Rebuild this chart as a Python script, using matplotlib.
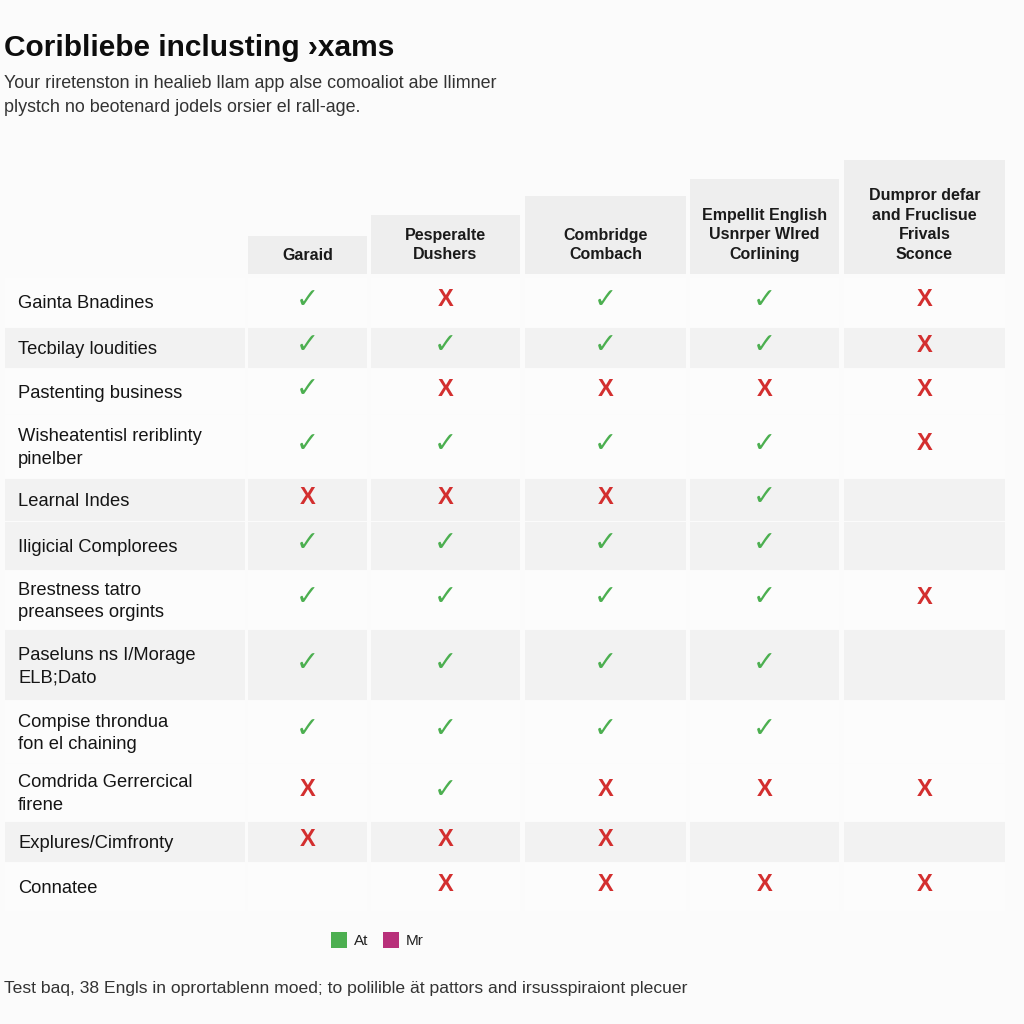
import matplotlib
matplotlib.use("Agg")
import matplotlib.pyplot as plt
from matplotlib.patches import Rectangle

plt.rcParams["font.family"] = ["Liberation Sans", "DejaVu Sans"]

# ── Data ──
title = "Coribliebe inclusting \u203axams"
subtitle = ["Your riretenston in healieb llam app alse comoaliot abe llimner",
            "plystch no beotenard jodels orsier el rall-age."]
columns = ["Garaid", "Pesperalte\nDushers", "Combridge\nCombach",
           "Empellit English\nUsnrper Wlred\nCorlining",
           "Dumpror defar\nand Fruclisue\nFrivals\nSconce"]
rows = ["Gainta Bnadines", "Tecbilay loudities", "Pastenting business",
        "Wisheatentisl reriblinty\npinelber", "Learnal Indes",
        "Iligicial Complorees", "Brestness tatro\npreansees orgints",
        "Paseluns ns I/Morage\nELB;Dato", "Compise throndua\nfon el chaining",
        "Comdrida Gerrercical\nfirene", "Explures/Cimfronty", "Connatee"]
# y = supported, n = not supported, "" = empty cell
marks = [
    ["y", "n", "y", "y", "n"],
    ["y", "y", "y", "y", "n"],
    ["y", "n", "n", "n", "n"],
    ["y", "y", "y", "y", "n"],
    ["n", "n", "n", "y", ""],
    ["y", "y", "y", "y", ""],
    ["y", "y", "y", "y", "n"],
    ["y", "y", "y", "y", ""],
    ["y", "y", "y", "y", ""],
    ["n", "y", "n", "n", "n"],
    ["n", "n", "n", "", ""],
    ["", "n", "n", "n", "n"],
]
legend_labels = ["At", "Mr"]
footer = "Test baq, 38 Engls in oprortablenn moed; to polilible ät pattors and irsusspiraiont plecuer"

# ── Layout (pixels) ──
col_edges = [(248, 367), (371, 520), (525, 686), (690, 839), (844, 1005)]
head_tops = [236, 215, 196, 179, 160]
head_bottom = 274
row_edges = [278, 328, 369, 415, 479, 522, 571, 630, 701, 764, 822, 863, 912]
shaded = [False, True, False, False, True, True, False, True, False, False, True, False]
GREEN = "#4caf50"
RED = "#d32f2f"
MAGENTA = "#b8307a"
GREY = "#f2f2f2"
WHITE = "#fcfcfc"

fig = plt.figure(figsize=(10.24, 10.24), dpi=100, facecolor="#fbfbfb")
ax = fig.add_axes([0, 0, 1, 1])
ax.set_xlim(0, 1024)
ax.set_ylim(1024, 0)
ax.axis("off")

# title block
ax.text(4, 48, title, fontsize=21.5, fontweight="bold", color="#0d0d0d", va="center")
for i, line in enumerate(subtitle):
    ax.text(4, 84 + 24 * i, line, fontsize=12.9, color="#333333", va="center")

# column headers
for (x0, x1), top, name in zip(col_edges, head_tops, columns):
    ax.add_patch(Rectangle((x0, top), x1 - x0, head_bottom - top, color="#eeeeee", lw=0))
    n = name.count("\n") + 1
    ax.text((x0 + x1) / 2, head_bottom - 19 - 20 * (n - 1) / 2, name, ha="center", va="center",
            fontsize=11.5, fontweight="bold", color="#1a1a1a", linespacing=1.4)

# table body
for r, label in enumerate(rows):
    y0, y1 = row_edges[r], row_edges[r + 1]
    yc = (y0 + y1) / 2
    fill = GREY if shaded[r] else WHITE
    ax.add_patch(Rectangle((5, y0), 240, y1 - y0 - 1, color=fill, lw=0))
    ax.text(18, yc + 1, label, fontsize=13.2, color="#151515", va="center", linespacing=1.45)
    for c, (x0, x1) in enumerate(col_edges):
        ax.add_patch(Rectangle((x0, y0), x1 - x0, y1 - y0 - 1, color=fill, lw=0))
        m = marks[r][c]
        if m == "y":
            ax.text((x0 + x1) / 2, yc - 3, "\u2713", ha="center", va="center",
                    fontsize=20, fontweight="bold", color=GREEN, family="DejaVu Sans")
        elif m == "n":
            ax.text((x0 + x1) / 2, yc - 3, "X", ha="center", va="center",
                    fontsize=17, fontweight="bold", color=RED, family="Liberation Sans")

# legend
for i, (lab, col) in enumerate(zip(legend_labels, [GREEN, MAGENTA])):
    x = 331 + 52 * i
    ax.add_patch(Rectangle((x, 932), 16, 16, color=col, lw=0))
    ax.text(x + 23, 941, lab, fontsize=11, color="#222222", va="center")

ax.text(4, 988, footer, fontsize=12.6, color="#333333", va="center")

fig.savefig("out.png", dpi=100, facecolor=fig.get_facecolor())
plt.close(fig)
